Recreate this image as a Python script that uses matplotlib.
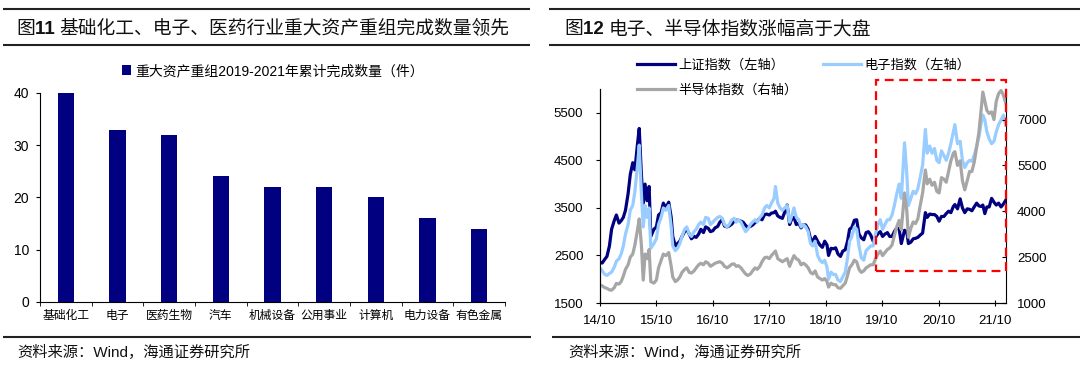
import matplotlib
matplotlib.use('Agg')
import matplotlib.pyplot as plt
import matplotlib.dates as mdates
from matplotlib.patches import Rectangle
import numpy as np
import pandas as pd

plt.rcParams['font.family'] = ['Liberation Sans', 'Noto Sans CJK SC']

# ---- left chart data: completed major asset restructurings 2019-2021
industries = ['基础化工', '电子', '医药生物', '汽车', '机械设备', '公用事业', '计算机', '电力设备', '有色金属']
deal_counts = [40, 33, 32, 24, 22, 22, 20, 16, 14]

# ---- right chart data: index levels (~twice a month)
dates = [
    '2014-10-01', '2014-10-15', '2014-11-01', '2014-11-15', '2014-12-01', '2014-12-15',
    '2015-01-01', '2015-01-15', '2015-02-01', '2015-02-15', '2015-03-01', '2015-03-15',
    '2015-04-01', '2015-04-15', '2015-05-01', '2015-05-15', '2015-06-01', '2015-06-12',
    '2015-06-26', '2015-07-08', '2015-07-20', '2015-08-01', '2015-08-15', '2015-08-26',
    '2015-09-15', '2015-10-01', '2015-10-15', '2015-11-01', '2015-11-15', '2015-12-01',
    '2015-12-20', '2016-01-05', '2016-01-15', '2016-02-01', '2016-02-15', '2016-03-01',
    '2016-03-15', '2016-04-01', '2016-04-15', '2016-05-01', '2016-05-15', '2016-06-01',
    '2016-06-15', '2016-07-01', '2016-07-15', '2016-08-01', '2016-08-15', '2016-09-01',
    '2016-09-15', '2016-10-01', '2016-10-15', '2016-11-01', '2016-11-15', '2016-12-01',
    '2016-12-15', '2017-01-01', '2017-01-15', '2017-02-01', '2017-02-15', '2017-03-01',
    '2017-03-15', '2017-04-01', '2017-04-15', '2017-05-01', '2017-05-15', '2017-06-01',
    '2017-06-15', '2017-07-01', '2017-07-15', '2017-08-01', '2017-08-15', '2017-09-01',
    '2017-09-15', '2017-10-01', '2017-10-15', '2017-11-01', '2017-11-10', '2017-11-25',
    '2017-12-10', '2017-12-25', '2018-01-10', '2018-01-25', '2018-02-10', '2018-02-25',
    '2018-03-10', '2018-03-25', '2018-04-10', '2018-04-25', '2018-05-10', '2018-05-25',
    '2018-06-10', '2018-06-25', '2018-07-10', '2018-07-25', '2018-08-10', '2018-08-25',
    '2018-09-10', '2018-09-25', '2018-10-10', '2018-10-20', '2018-11-05', '2018-11-20',
    '2018-12-05', '2018-12-20', '2019-01-05', '2019-01-20', '2019-02-05', '2019-02-20',
    '2019-03-05', '2019-03-20', '2019-04-05', '2019-04-20', '2019-05-05', '2019-05-20',
    '2019-06-05', '2019-06-20', '2019-07-05', '2019-07-20', '2019-08-05', '2019-08-20',
    '2019-09-05', '2019-09-20', '2019-10-05', '2019-10-20', '2019-11-05', '2019-11-20',
    '2019-12-05', '2019-12-20', '2020-01-05', '2020-01-20', '2020-02-03', '2020-02-24',
    '2020-03-10', '2020-03-20', '2020-04-05', '2020-04-20', '2020-05-05', '2020-05-20',
    '2020-06-05', '2020-06-20', '2020-07-08', '2020-07-20', '2020-08-05', '2020-08-20',
    '2020-09-05', '2020-09-20', '2020-10-05', '2020-10-20', '2020-11-05', '2020-11-20',
    '2020-12-05', '2020-12-20', '2021-01-05', '2021-01-15', '2021-02-01', '2021-02-18',
    '2021-03-05', '2021-03-20', '2021-04-05', '2021-04-20', '2021-05-05', '2021-05-20',
    '2021-06-05', '2021-06-20', '2021-07-05', '2021-07-15', '2021-07-28', '2021-08-10',
    '2021-08-25', '2021-09-10', '2021-09-25', '2021-10-10', '2021-10-25', '2021-11-10',
    '2021-11-25', '2021-12-10',
]

# 上证指数 (left axis)
sh_index = [
    2360, 2340, 2420, 2480, 2700, 3050,
    3230, 3350, 3180, 3230, 3300, 3450,
    3800, 4200, 4450, 4300, 4850, 5170,
    4200, 3600, 4000, 3650, 3950, 2900,
    3050, 3100, 3350, 3400, 3600, 3500,
    3620, 3300, 2900, 2700, 2750, 2800,
    2900, 3000, 3050, 2950, 2850, 2900,
    2880, 2950, 3050, 2980, 3100, 3070,
    3000, 3020, 3080, 3110, 3200, 3250,
    3120, 3100, 3120, 3160, 3220, 3240,
    3240, 3220, 3200, 3130, 3090, 3110,
    3140, 3190, 3230, 3280, 3250, 3360,
    3370, 3350, 3390, 3400, 3430, 3330,
    3300, 3280, 3420, 3560, 3150, 3280,
    3300, 3150, 3180, 3080, 3150, 3140,
    3050, 2850, 2800, 2900, 2800, 2720,
    2670, 2800, 2720, 2500, 2650, 2640,
    2660, 2530, 2480, 2590, 2620, 2800,
    3050, 3090, 3240, 3250, 2950, 2870,
    2830, 2980, 3000, 2930, 2800, 2880,
    2960, 3000, 2900, 2950, 2980, 2900,
    2900, 3000, 3080, 3060, 2750, 3030,
    2990, 2750, 2780, 2850, 2860, 2880,
    2930, 2970, 3400, 3300, 3370, 3360,
    3360, 3320, 3220, 3320, 3320, 3380,
    3430, 3400, 3530, 3570, 3480, 3690,
    3500, 3400, 3480, 3470, 3440, 3520,
    3600, 3540, 3530, 3560, 3380, 3520,
    3520, 3700, 3620, 3560, 3600, 3520,
    3580, 3660,
]

# 电子指数 (left axis)
elec_index = [
    2230, 2180, 2100, 2080, 2120, 2150,
    2250, 2380, 2430, 2530, 2700, 2950,
    3150, 3450, 3550, 3850, 4400, 4820,
    3800, 3100, 3550, 3300, 3500, 2650,
    2750, 2850, 3150, 3300, 3500, 3450,
    3550, 3100, 2700, 2600, 2650, 2750,
    2900, 3050, 3100, 2950, 2900, 3000,
    3050, 3150, 3200, 3150, 3300, 3280,
    3150, 3200, 3250, 3300, 3320, 3280,
    3150, 3100, 3150, 3250, 3280, 3200,
    3250, 3200, 3100, 3000, 3050, 3150,
    3200, 3250, 3200, 3300, 3350, 3500,
    3550, 3500, 3600, 3700, 3950, 3600,
    3500, 3450, 3500, 3550, 3200, 3350,
    3500, 3300, 3250, 3100, 3150, 3100,
    3000, 2750, 2700, 2800, 2500, 2400,
    2350, 2400, 2250, 2000, 2150, 2100,
    2100, 1980, 1950, 2050, 2150, 2450,
    2800, 2900, 3100, 3050, 2700, 2450,
    2400, 2600, 2650, 2700, 2700, 2950,
    3150, 3250, 3050, 3150, 3250, 3250,
    3350, 3550, 3800, 4000, 3700, 4870,
    4200, 3550, 3700, 3850, 3800, 3900,
    4150, 4400, 5150, 4650, 4800, 4650,
    4750, 4500, 4450, 4700, 4600, 4500,
    4650, 4850, 5100, 5250, 4850, 4900,
    4500, 4350, 4450, 4500, 4480, 4600,
    4800, 5000, 5300, 5450, 5350, 5100,
    4950, 4850, 4900, 5100, 5250, 5350,
    5450, 5250,
]

# 半导体指数 (right axis)
semi_index = [
    1590, 1560, 1500, 1480, 1430, 1420,
    1500, 1640, 1620, 1700, 1880, 2100,
    2250, 2500, 2600, 2900, 3400, 3750,
    2900, 1750, 2600, 2450, 2750, 1700,
    1650, 1750, 2150, 2400, 2600, 2550,
    2650, 2200, 1850, 1700, 1750, 1850,
    2000, 2100, 2150, 2000, 1980, 2050,
    2150, 2250, 2300, 2250, 2350, 2300,
    2200, 2250, 2300, 2330, 2350, 2300,
    2200, 2150, 2200, 2270, 2280, 2200,
    2220, 2150, 2050, 1950, 1900, 1950,
    2050, 2150, 2100, 2200, 2350, 2480,
    2500, 2450, 2550, 2650, 2700, 2450,
    2400, 2350, 2400, 2450, 2200, 2400,
    2550, 2450, 2400, 2250, 2300, 2250,
    2150, 2000, 1950, 2050, 1850, 1800,
    1750, 1800, 1700, 1520, 1650, 1600,
    1600, 1500, 1480, 1560, 1650, 1900,
    2150, 2250, 2400, 2350, 2100, 2000,
    2050, 2150, 2200, 2250, 2250, 2450,
    2600, 2700, 2550, 2650, 2750, 2800,
    2900, 3200, 3500, 3700, 3400, 4600,
    4000, 3150, 3450, 3650, 3600, 3750,
    4200, 4600, 5350, 4900, 5050, 4850,
    4950, 4650, 4600, 5100, 5050, 4950,
    5300, 5650, 5900, 5950, 5500, 5650,
    5000, 4700, 5000, 5300, 5300, 5600,
    6100, 6600, 7400, 7900, 7600, 7300,
    7200, 7250, 7000, 7600, 7850, 7950,
    7800, 7550,
]

W, H = 1080, 366
fig = plt.figure(figsize=(W / 100, H / 100), dpi=100)


def px_box(x0, y0, x1, y1):
    # pixel box (top-left origin) -> figure fraction rect
    return [x0 / W, 1 - y1 / H, (x1 - x0) / W, (y1 - y0) / H]


# overlay in pixel coordinates for titles, rules, legends and footnotes
bg = fig.add_axes([0, 0, 1, 1])
bg.set_xlim(0, W)
bg.set_ylim(H, 0)
bg.axis('off')
bg.set_zorder(10)

rule = dict(color='#222222', lw=1.5, solid_capstyle='butt')
for y in (8.7, 44.5):
    bg.plot([3, 530], [y, y], **rule)
    bg.plot([549, 1080], [y, y], **rule)
bg.plot([3, 531], [337, 337], **rule)
bg.plot([552, 1080], [337, 337], **rule)

renderer = fig.canvas.get_renderer()


def chain_text(x, y, parts, **kw):
    for s, extra in parts:
        t = bg.text(x, y, s, ha='left', va='baseline', **kw, **extra)
        x += t.get_window_extent(renderer=renderer).width


title_kw = dict(fontsize=13.5, color='#111111')
chain_text(16, 34, [('图', {}), ('11 ', {'fontweight': 'bold'}),
                    ('基础化工、电子、医药行业重大资产重组完成数量领先', {})], **title_kw)
chain_text(564, 34, [('图', {}), ('12 ', {'fontweight': 'bold'}),
                     ('电子、半导体指数涨幅高于大盘', {})], **title_kw)

note = '资料来源：Wind，海通证券研究所'
bg.text(17, 352, note, fontsize=11, va='center', ha='left', color='#111111')
bg.text(568, 352, note, fontsize=11, va='center', ha='left', color='#111111')

# ---- left: bar chart
ax1 = fig.add_axes(px_box(40, 93, 505, 301.7))
xpos = np.arange(len(industries))
bars = ax1.bar(xpos, deal_counts, width=0.32, color='#000080')
ax1.set_xlim(-0.5, len(industries) - 0.5)
ax1.set_ylim(0, 40)
ax1.set_yticks([0, 10, 20, 30, 40])
ax1.set_xticks(xpos)
ax1.set_xticklabels(industries, fontsize=8.5)
ax1.set_xticks(np.arange(-0.5, len(industries), 1), minor=True)
ax1.tick_params(axis='x', which='major', length=0, pad=6)
ax1.tick_params(axis='x', which='minor', length=3, direction='out')
ax1.tick_params(axis='y', length=3, direction='out', pad=5, labelsize=10)
for side in ('top', 'right'):
    ax1.spines[side].set_visible(False)

leg1 = bg.legend([bars], ['重大资产重组2019-2021年累计完成数量（件）'],
                 loc='upper left', bbox_to_anchor=(122, 64), bbox_transform=bg.transData,
                 frameon=False, fontsize=10, handlelength=0.65, handleheight=0.65,
                 handletextpad=0.3, borderpad=0, borderaxespad=0)
bg.add_artist(leg1)

# ---- right: index lines
t = pd.to_datetime(dates)
ax2 = fig.add_axes(px_box(600, 89, 1006, 303))
l_sh, = ax2.plot(t, sh_index, color='#000080', lw=2.3)
l_el, = ax2.plot(t, elec_index, color='#99CCFF', lw=2.3)
ax3 = ax2.twinx()
l_semi, = ax3.plot(t, semi_index, color='#A6A6A6', lw=2.3)

x_end = pd.Timestamp('2021-12-12')
ax2.set_xlim(pd.Timestamp('2014-10-01'), x_end)
ax2.set_ylim(1500, 6000)
ax2.set_yticks([1500, 2500, 3500, 4500, 5500])
ax3.set_ylim(1000, 8000)
ax3.set_yticks([1000, 2500, 4000, 5500, 7000])
years = range(2014, 2022)
ax2.set_xticks([pd.Timestamp(f'{y}-10-01') for y in years])
ax2.set_xticklabels([f'{y % 100}/10' for y in years])
ax2.tick_params(axis='x', direction='inout', length=5, pad=6, labelsize=9.5)
ax2.tick_params(axis='y', direction='out', length=3, pad=9, labelsize=9.5)
ax3.tick_params(axis='y', direction='in', length=3, pad=8, labelsize=9.5)
ax2.spines['top'].set_visible(False)
ax3.spines['top'].set_visible(False)
ax2.spines['right'].set_visible(False)

# highlight box around the 2019-2021 rally
bx0 = mdates.date2num(pd.Timestamp('2019-08-26'))
box = Rectangle((bx0, 2174), mdates.date2num(x_end) - bx0, 6195 - 2174,
                fill=False, ec='#FF0000', lw=1.6, ls=(0, (4, 2.5)),
                transform=ax2.transData, clip_on=False, zorder=5)
ax3.add_patch(box)

bg.legend([l_sh, l_semi, l_el], ['上证指数（左轴）', '半导体指数（右轴）', '电子指数（左轴）'],
          ncol=2, loc='upper left', bbox_to_anchor=(637, 59), bbox_transform=bg.transData,
          frameon=False, fontsize=9.5, handlelength=2.9, handletextpad=0.25,
          columnspacing=1.9, labelspacing=0.9, borderpad=0, borderaxespad=0)

fig.savefig('out.png', dpi=100)
